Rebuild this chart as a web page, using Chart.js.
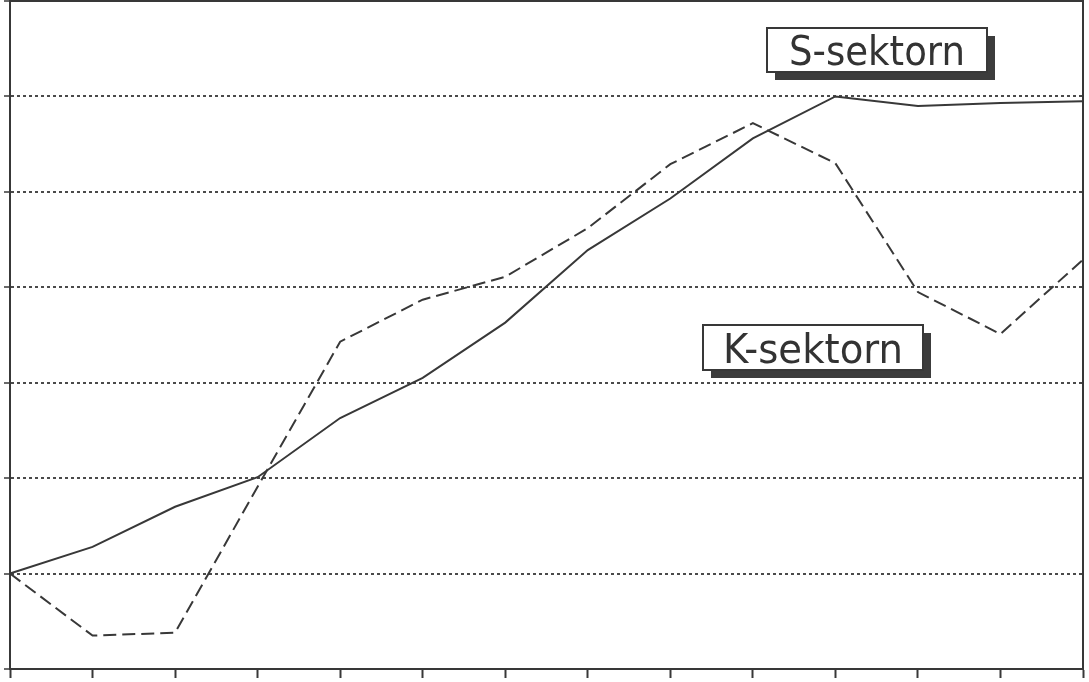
<!DOCTYPE html>
<html>
<head>
<meta charset="utf-8">
<script src="https://cdn.jsdelivr.net/npm/chart.js@4/dist/chart.umd.min.js"></script>
<style>
  html, body { margin: 0; padding: 0; background: #fff; }
  #wrap { width: 1089px; height: 682px; position: relative; }
</style>
</head>
<body>
<div id="wrap"><canvas id="c" width="1089" height="682"></canvas></div>
<script>
// ---- data ----
const categories = ['1','2','3','4','5','6','7','8','9','10','11','12','13','14'];
const sSektorn = [1.0, 1.28, 1.70, 2.01, 2.63, 3.05, 3.63, 4.39, 4.93, 5.56, 6.0, 5.90, 5.93, 5.95];
const kSektorn = [1.0, 0.35, 0.38, 1.91, 3.43, 3.87, 4.11, 4.62, 5.29, 5.72, 5.30, 3.95, 3.51, 4.29];
const seriesLabels = ['S-sektorn', 'K-sektorn'];
const yTicks = [0, 1, 2, 3, 4, 5, 6, 7];

const INK = '#383838';

// frame + boxed labels plugin
const decor = {
  id: 'decor',
  afterDraw(chart) {
    const ctx = chart.ctx;
    const a = chart.chartArea;
    ctx.save();
    ctx.strokeStyle = INK;
    ctx.lineWidth = 2;
    ctx.beginPath();
    ctx.moveTo(a.left, a.top);
    ctx.lineTo(a.right, a.top);
    ctx.lineTo(a.right, a.bottom);
    ctx.stroke();
    ctx.restore();

    const boxes = [
      { text: seriesLabels[0], x: 767, y: 28, w: 220, h: 44, tw: 176 },
      { text: seriesLabels[1], x: 703, y: 325, w: 220, h: 45, tw: 180 }
    ];
    boxes.forEach(b => {
      ctx.save();
      // shadow
      ctx.fillStyle = '#3c3c3c';
      ctx.fillRect(b.x + 8, b.y + 8, b.w, b.h);
      // box
      ctx.fillStyle = '#fff';
      ctx.fillRect(b.x, b.y, b.w, b.h);
      ctx.strokeStyle = INK;
      ctx.lineWidth = 2;
      ctx.strokeRect(b.x, b.y, b.w, b.h);
      // text
      ctx.font = '41px "DejaVu Sans"';
      ctx.fillStyle = '#333';
      ctx.textBaseline = 'alphabetic';
      const m = ctx.measureText(b.text).width;
      const sx = b.tw / m;
      ctx.translate(b.x + (b.w - b.tw) / 2, b.y + b.h / 2 + 15);
      ctx.scale(sx, 1);
      ctx.fillText(b.text, 0, 0);
      ctx.restore();
    });
  }
};

new Chart(document.getElementById('c'), {
  type: 'line',
  data: {
    labels: categories,
    datasets: [
      {
        label: seriesLabels[0],
        data: sSektorn,
        borderColor: INK,
        borderWidth: 2,
        pointRadius: 0,
        tension: 0,
        fill: false
      },
      {
        label: seriesLabels[1],
        data: kSektorn,
        borderColor: INK,
        borderWidth: 2,
        borderDash: [13, 6],
        pointRadius: 0,
        tension: 0,
        fill: false
      }
    ]
  },
  options: {
    responsive: false,
    animation: false,
    events: [],
    layout: { padding: { left: 0, right: 6, top: 1, bottom: 0 } },
    plugins: {
      legend: { display: false },
      tooltip: { enabled: false },
      title: { display: false }
    },
    scales: {
      x: {
        type: 'category',
        offset: false,
        afterFit: s => { s.height = 13; },
        ticks: { display: false },
        grid: {
          drawOnChartArea: false,
          drawTicks: true,
          tickLength: 9,
          tickColor: INK,
          tickWidth: 2,
          offset: false
        },
        border: { display: true, color: INK, width: 2 }
      },
      y: {
        type: 'linear',
        min: yTicks[0],
        max: yTicks[yTicks.length - 1],
        afterFit: s => { s.width = 10; },
        afterBuildTicks: s => { s.ticks = yTicks.map(v => ({ value: v })); },
        ticks: { display: false, stepSize: 1 },
        grid: {
          drawOnChartArea: true,
          drawTicks: true,
          tickLength: 6,
          tickColor: INK,
          tickWidth: 1.5,
          tickBorderDash: [],
          lineWidth: 2,
          color: ctx => (ctx.tick && (ctx.tick.value === 0 || ctx.tick.value === 7)) ? 'rgba(0,0,0,0)' : '#4a4a4a'
        },
        border: { display: true, color: INK, width: 2, dash: [3, 3] }
      }
    }
  },
  plugins: [decor]
});
</script>
</body>
</html>
